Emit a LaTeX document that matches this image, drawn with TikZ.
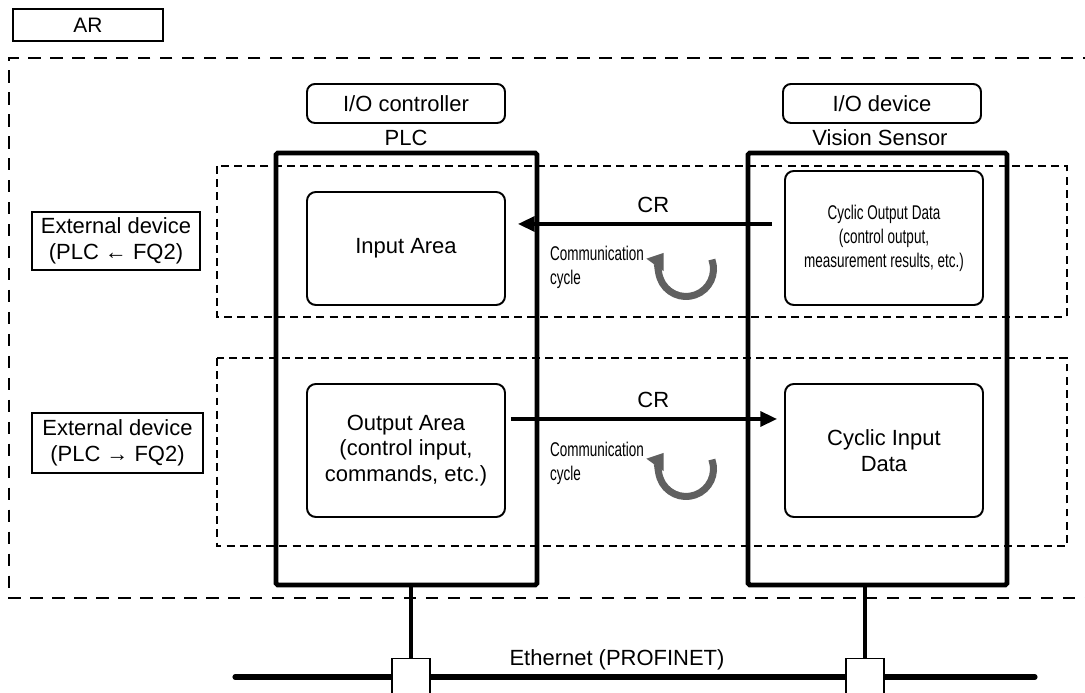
\documentclass[tikz,border=0pt]{standalone}
\usepackage{fontspec}
\setmainfont{Liberation Sans}
\newfontfamily\narrowfont{Liberation Sans}[FakeStretch=0.68]
\usetikzlibrary{arrows.meta}
\definecolor{cyclegray}{RGB}{96,96,96}

\begin{document}
\begin{tikzpicture}[
  x=1cm, y=1cm,
  lbl/.style={font=\fontsize{12.5}{14.5}\selectfont, align=center},
  narrow/.style={font=\narrowfont\fontsize{11.3}{13.6}\selectfont},
  tag/.style={draw, line width=1.1pt, inner sep=0pt, align=center,
              font=\fontsize{12.5}{14.5}\selectfont},
  area/.style={draw, line width=1.1pt, rounded corners=5pt, inner sep=0pt,
               minimum width=3.96cm, align=center,
               font=\fontsize{12.5}{14.5}\selectfont},
  unit/.style={draw, line width=2.8pt, rounded corners=1pt, inner sep=0pt},
  zone/.style={draw, line width=1.35pt, dash pattern=on 4.5pt off 3pt},
  arzone/.style={draw, line width=1.5pt, dash pattern=on 7pt off 5.5pt},
  flow/.style={-{Triangle[length=9.5pt,width=8.5pt]}, line width=1.9pt},
  cycl/.style={-{Triangle[length=8.5pt,width=11.5pt]}, cyclegray, line width=4pt},
  port/.style={draw, fill=white, line width=0.85pt, inner sep=0pt,
               minimum width=0.76cm, minimum height=1cm, anchor=north},
  link/.style={line width=2.2pt},
  bus/.style={line width=2.9pt, line cap=round},
]

\path[use as bounding box] (0,0) rectangle (21.7,13.86);
\clip (0,0) rectangle (21.7,13.86);

% ---- AR ----
\node[tag, minimum width=3.0cm, minimum height=0.64cm,
      font=\fontsize{11.9}{14}\selectfont] (ar) at (1.76,13.36) {AR};
\draw[arzone] (21.9,12.7) -- (0.18,12.7) -- (0.18,1.9) -- (21.9,1.9);

% ---- data exchange zones ----
\draw[zone] (4.34,10.54) rectangle (21.34,7.52);
\draw[zone] (4.34,6.70) rectangle (21.34,2.94);

\node[tag, minimum width=3.36cm, minimum height=1.16cm]
      (ext1) at (2.32,9.04) {External device\\(PLC ← FQ2)};
\node[tag, minimum width=3.42cm, minimum height=1.2cm]
      (ext2) at (2.35,5.0) {External device\\(PLC → FQ2)};

% ---- controller and device ----
\node[unit, minimum width=5.22cm, minimum height=8.64cm] (plc) at (8.13,6.48) {};
\node[unit, minimum width=5.18cm, minimum height=8.64cm] (vis) at (17.55,6.48) {};

\node[area, rounded corners=4.5pt, minimum height=0.78cm] (ctl) at (8.12,11.79) {I/O controller};
\node[lbl] (plcl) at (8.12,11.1) {PLC};
\node[area, rounded corners=4.5pt, minimum height=0.78cm] (dev) at (17.64,11.79) {I/O device};
\node[lbl] (visl) at (17.6,11.1) {Vision Sensor};

% ---- memory areas ----
\node[area, minimum height=2.26cm] (inp) at (8.12,8.89) {Input Area};
\node[area, minimum height=2.66cm] (outp) at (8.12,4.85)
      {Output Area\\(control input,\\commands, etc.)};
\node[area, minimum height=2.68cm, narrow] (cod) at (17.68,9.10)
      {Cyclic Output Data\\(control output,\\measurement results, etc.)};
\node[area, minimum height=2.66cm] (cid) at (17.68,4.85) {Cyclic Input\\Data};

% ---- CR connections ----
\coordinate (cru) at (0,9.38);
\coordinate (crd) at (0,5.48);
\draw[flow, shorten <=0.24cm, shorten >=0.24cm] (cod.west |- cru)
      -- node[pos=0.47, above=2pt, lbl] (cr1) {CR} (inp.east |- cru);
\draw[flow, shorten <=0.1cm, shorten >=0.14cm] (outp.east |- crd)
      -- node[pos=0.53, above=2pt, lbl] (cr2) {CR} (cid.west |- crd);

% ---- communication cycle ----
\node[narrow, anchor=west, align=left] (cc1) at (10.88,8.52) {Communication\\cycle};
\node[narrow, anchor=west, align=left] (cc2) at (10.88,4.60) {Communication\\cycle};
\coordinate (r1) at (13.72,8.48);
\coordinate (r2) at (13.72,4.48);
\foreach \r in {r1,r2}{\draw[cycl] (\r) ++(20:0.55) arc[start angle=20, end angle=-216, radius=0.55];}

% ---- Ethernet ----
\coordinate (ethw) at (4.7,0.32);
\coordinate (ethe) at (20.7,0.32);
\draw[bus] (ethw) -- (ethe);
\node[port] (pp) at (8.22,0.70) {};
\node[port] (vp) at (17.3,0.70) {};
\draw[link] (plc.south -| pp) -- (pp.north);
\draw[link] (vis.south -| vp) -- (vp.north);
\node[lbl] (eth) at (12.34,0.66) {Ethernet (PROFINET)};

\end{tikzpicture}
\end{document}
